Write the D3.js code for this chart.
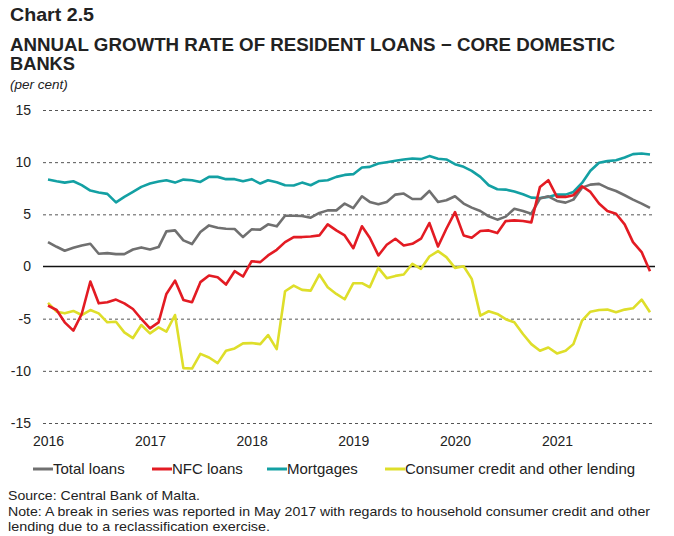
<!DOCTYPE html>
<meta charset="utf-8">
<style>
body { margin: 0; background: #fff; }
svg { font-family: "Liberation Sans", Arial, sans-serif; }
.grid line { stroke: #555; stroke-dasharray: 3,3; stroke-width: 1; }
.grid .domain { display: none; }
.axis text { font-size: 14px; fill: #222; }
.axis .domain, .axis line { display: none; }
.series { fill: none; stroke-width: 2.6; stroke-linejoin: round; }
</style>
<body>
<script src="https://cdn.jsdelivr.net/npm/d3@7"></script>
<script>

// monthly data, Jan 2016 - Dec 2021
var totalLoans = [2.34, 1.89, 1.51, 1.79, 2.02, 2.18, 1.22, 1.28, 1.19, 1.19, 1.63, 1.83,
  1.63, 1.86, 3.37, 3.46, 2.50, 2.15, 3.30, 3.94, 3.72, 3.62, 3.59, 2.82,
  3.56, 3.53, 4.04, 3.85, 4.87, 4.87, 4.84, 4.68, 5.13, 5.38, 5.38, 6.03,
  5.60, 6.73, 6.19, 5.96, 6.19, 6.89, 6.99, 6.47, 6.47, 7.24, 6.19, 6.35,
  6.73, 6.03, 5.64, 5.32, 4.81, 4.49, 4.78, 5.54, 5.32, 5.06, 6.51, 6.73,
  6.28, 6.12, 6.41, 7.56, 7.85, 7.92, 7.53, 7.24, 6.83, 6.41, 6.03, 5.61];

var nfcLoans = [-3.75, -4.17, -5.35, -6.15, -4.55, -1.44, -3.53, -3.43, -3.17, -3.53, -4.07, -5.03,
  -5.93, -5.35, -2.63, -1.35, -3.20, -3.43, -1.50, -0.87, -1.03, -1.73, -0.45, -0.96,
  0.51, 0.42, 1.06, 1.60, 2.34, 2.82, 2.82, 2.88, 2.98, 4.04, 3.46, 2.98,
  1.75, 3.85, 2.76, 1.06, 2.08, 2.66, 2.02, 2.18, 2.66, 4.17, 1.92, 3.62,
  5.22, 2.98, 2.76, 3.40, 3.46, 3.20, 4.35, 4.42, 4.36, 4.23, 7.63, 8.27,
  6.67, 6.67, 6.83, 7.69, 7.15, 6.03, 5.32, 5.06, 4.04, 2.34, 1.38, -0.45];

var mortgages = [8.33, 8.17, 8.04, 8.17, 7.80, 7.28, 7.10, 6.96, 6.15, 6.67, 7.15, 7.63,
  7.95, 8.14, 8.27, 8.04, 8.33, 8.27, 8.10, 8.59, 8.59, 8.37, 8.37, 8.17,
  8.37, 7.95, 8.27, 8.08, 7.79, 7.76, 8.04, 7.79, 8.20, 8.27, 8.59, 8.78,
  8.85, 9.49, 9.55, 9.87, 10.00, 10.13, 10.26, 10.35, 10.29, 10.58, 10.32, 10.26,
  9.81, 9.55, 9.17, 8.59, 7.79, 7.40, 7.37, 7.18, 6.92, 6.60, 6.57, 6.67,
  6.89, 6.89, 7.15, 8.01, 9.17, 9.94, 10.10, 10.19, 10.45, 10.77, 10.83, 10.74];

var consumerCredit = [-3.49, -4.33, -4.49, -4.26, -4.65, -4.17, -4.49, -5.35, -5.29, -6.31, -6.86, -5.61,
  -6.41, -5.83, -6.25, -4.65, -9.74, -9.78, -8.37, -8.72, -9.26, -8.08, -7.85, -7.37,
  -7.34, -7.44, -6.57, -7.92, -2.37, -1.83, -2.24, -2.31, -0.77, -1.99, -2.63, -3.14,
  -1.60, -1.60, -1.99, -0.13, -1.12, -0.90, -0.77, 0.26, -0.22, 0.96, 1.47, 0.90,
  -0.13, 0.03, -1.19, -4.71, -4.29, -4.55, -5.05, -5.35, -6.47, -7.44, -8.08, -7.76,
  -8.33, -8.08, -7.44, -5.19, -4.33, -4.17, -4.13, -4.39, -4.13, -4.01, -3.17, -4.39];

var seriesNames = ["Total loans", "NFC loans", "Mortgages", "Consumer credit and other lending"];
var seriesColors = ["#707070", "#e31b23", "#13a0a3", "#dede2a"];
var yTicks = [-15, -10, -5, 0, 5, 10, 15];
var yearTicks = [2016, 2017, 2018, 2019, 2020, 2021];

var months = totalLoans.map(function(d, i) { return new Date(2016, i, 1); });

var width = 674, height = 536;
var plotLeft = 43, plotRight = 655;

var svg = d3.select("body").append("svg")
    .attr("width", width)
    .attr("height", height);

// titles
svg.append("text").attr("x", 10).attr("y", 21)
    .style("font-size", "18.5px").style("font-weight", "bold").style("fill", "#222")
    .attr("textLength", 84).attr("lengthAdjust", "spacingAndGlyphs")
    .text("Chart 2.5");
svg.append("text").attr("x", 10).attr("y", 51)
    .style("font-size", "18px").style("font-weight", "bold").style("fill", "#222")
    .attr("textLength", 605).attr("lengthAdjust", "spacingAndGlyphs")
    .text("ANNUAL GROWTH RATE OF RESIDENT LOANS \u2212 CORE DOMESTIC");
svg.append("text").attr("x", 10).attr("y", 70)
    .style("font-size", "18px").style("font-weight", "bold").style("fill", "#222")
    .attr("textLength", 65).attr("lengthAdjust", "spacingAndGlyphs")
    .text("BANKS");
svg.append("text").attr("x", 10).attr("y", 89)
    .style("font-size", "13.5px").style("font-style", "italic").style("fill", "#222")
    .text("(per cent)");

// scales
var x = d3.scaleTime()
    .domain([months[0], months[months.length - 1]])
    .range([48, 650]);
var y = d3.scaleLinear()
    .domain([-15, 15])
    .range([423, 110]);

// gridlines
svg.append("g")
    .attr("class", "grid")
    .attr("transform", "translate(" + plotLeft + ",0)")
    .call(d3.axisLeft(y).tickValues(yTicks.filter(function(t) { return t !== 0; }))
      .tickSize(-(plotRight - plotLeft)).tickFormat(""));

// zero line
svg.append("line")
    .attr("x1", plotLeft).attr("x2", plotRight)
    .attr("y1", y(0)).attr("y2", y(0))
    .style("stroke", "#111").style("stroke-width", 1.6);

// y axis labels
svg.append("g")
    .attr("class", "axis")
    .attr("transform", "translate(31,0)")
    .call(d3.axisLeft(y).tickValues(yTicks).tickSize(0).tickPadding(0)
      .tickFormat(function(d) { return d; }));

// x axis labels
svg.append("g")
    .attr("class", "axis")
    .attr("transform", "translate(0,434)")
    .call(d3.axisBottom(x)
      .tickValues(yearTicks.map(function(yr) { return new Date(yr, 0, 1); }))
      .tickSize(0).tickPadding(2)
      .tickFormat(d3.timeFormat("%Y")));

// lines
var line = d3.line()
    .x(function(d, i) { return x(months[i]); })
    .y(function(d) { return y(d); });

var allSeries = [totalLoans, nfcLoans, mortgages, consumerCredit];
var drawOrder = [3, 2, 0, 1];
drawOrder.forEach(function(k) {
  svg.append("path")
      .datum(allSeries[k])
      .attr("class", "series")
      .attr("d", line)
      .style("stroke", seriesColors[k]);
});

// legend
var legendX = [33, 152, 267, 385];
var legend = svg.append("g").attr("transform", "translate(0,469)");
seriesNames.forEach(function(name, i) {
  legend.append("line")
      .attr("x1", legendX[i]).attr("x2", legendX[i] + 20)
      .attr("y1", 0).attr("y2", 0)
      .style("stroke", seriesColors[i]).style("stroke-width", 3);
  legend.append("text")
      .attr("x", legendX[i] + 20).attr("y", 5)
      .style("font-size", "15px").style("fill", "#222")
      .text(name);
});

// notes
var notes = ["Source: Central Bank of Malta.",
  "Note: A break in series was reported in May 2017 with regards to household consumer credit and other",
  "lending due to a reclassification exercise."];
var noteWidths = [192, 642, 262];
notes.forEach(function(t, i) {
  svg.append("text")
      .attr("x", 8).attr("y", 500 + i * 15.5)
      .style("font-size", "13.5px").style("fill", "#222")
      .attr("textLength", noteWidths[i]).attr("lengthAdjust", "spacingAndGlyphs")
      .text(t);
});

</script>
</body>
